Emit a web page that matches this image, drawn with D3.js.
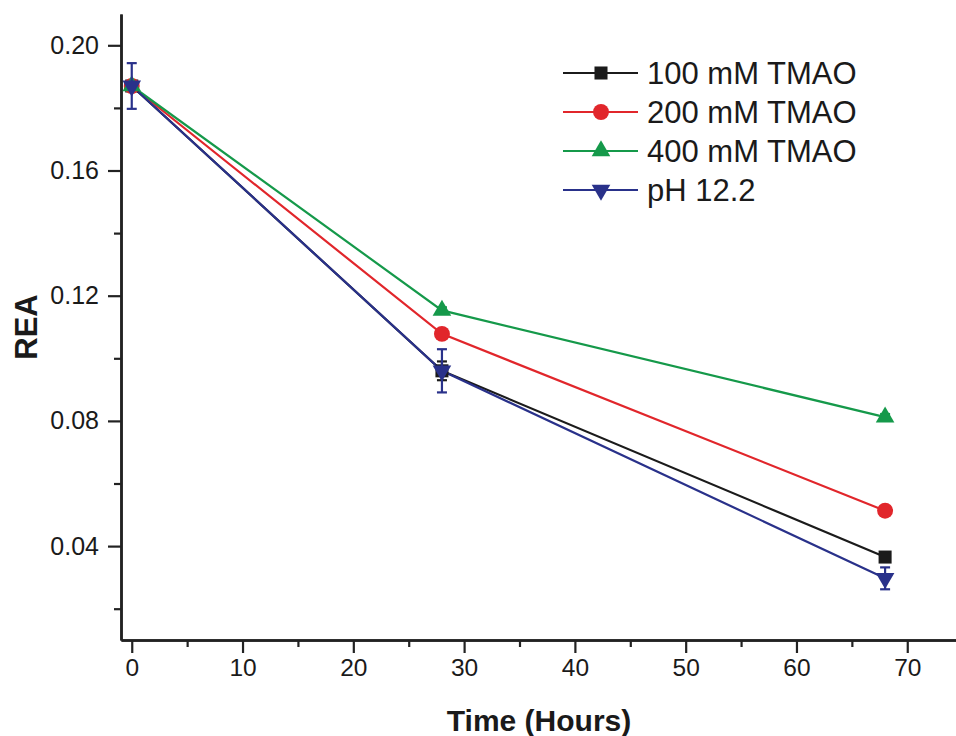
<!DOCTYPE html>
<html>
<head>
<meta charset="utf-8">
<script src="https://cdn.jsdelivr.net/npm/d3@7"></script>
<style>
  html, body { margin: 0; padding: 0; background: #fff; }
  svg { display: block; font-family: Arial, "Liberation Sans", sans-serif; }
</style>
</head>
<body>
<svg id="chart" width="956" height="736"></svg>
<script>
// Time points (hours)
const hours = [0, 28, 68];

// REA values per condition
const tmao100 = [0.187, 0.096, 0.0365];
const tmao200 = [0.187, 0.1078, 0.0513];
const tmao400 = [0.187, 0.1153, 0.0812];
const ph122   = [0.187, 0.096, 0.0297];

// Error bar half-widths
const err100 = [0.001, 0.003, 0.001];
const err200 = [0.001, 0.001, 0.001];
const err400 = [0.001, 0.001, 0.001];
const errPh  = [0.0073, 0.0069, 0.0035];

const seriesNames = ["100 mM TMAO", "200 mM TMAO", "400 mM TMAO", "pH 12.2"];
const seriesColors = ["#1b1b1b", "#e1262b", "#15994a", "#29318a"];
const seriesSymbols = ["square", "circle", "triangle", "triangleDown"];

const xTicks = [0, 10, 20, 30, 40, 50, 60, 70];
const xMinor = [5, 15, 25, 35, 45, 55, 65];
const yTicks = [0.04, 0.08, 0.12, 0.16, 0.20];
const yMinor = [0.02, 0.06, 0.10, 0.14, 0.18];

const series = seriesNames.map((name, i) => ({
  name,
  color: seriesColors[i],
  symbol: seriesSymbols[i],
  values: [tmao100, tmao200, tmao400, ph122][i],
  errors: [err100, err200, err400, errPh][i]
}));

const svg = d3.select("#chart");
const plotLeft = 121, plotRight = 956, plotTop = 14, plotBottom = 640;

const x = d3.scaleLinear().domain([-0.97, 74.4]).range([plotLeft, plotRight]);
const y = d3.scaleLinear().domain([0.01, 0.21]).range([plotBottom, plotTop]);

const axisColor = "#222";

// X axis
const gx = svg.append("g").attr("transform", `translate(0,${plotBottom})`);
gx.call(d3.axisBottom(x).tickValues(xTicks).tickFormat(d3.format("d")).tickSize(13).tickPadding(6).tickSizeOuter(0));
gx.append("g").call(d3.axisBottom(x).tickValues(xMinor).tickFormat("").tickSize(7).tickSizeOuter(0));
gx.selectAll(".domain").attr("stroke", axisColor).attr("stroke-width", 2.5);
gx.selectAll(".tick line").attr("stroke", axisColor).attr("stroke-width", 2.2);
gx.selectAll(".tick text").attr("font-size", 24.5).attr("fill", "#1a1a1a")
  .attr("font-family", "Arial, 'Liberation Sans', sans-serif");

// Y axis
const gy = svg.append("g").attr("transform", `translate(${plotLeft},0)`);
gy.call(d3.axisLeft(y).tickValues(yTicks).tickFormat(d3.format(".2f")).tickSize(13).tickPadding(9).tickSizeOuter(0));
gy.append("g").call(d3.axisLeft(y).tickValues(yMinor).tickFormat("").tickSize(7).tickSizeOuter(0));
gy.selectAll(".domain").attr("stroke", axisColor).attr("stroke-width", 2.5);
gy.selectAll(".tick line").attr("stroke", axisColor).attr("stroke-width", 2.2);
gy.selectAll(".tick text").attr("font-size", 25).attr("fill", "#1a1a1a")
  .attr("font-family", "Arial, 'Liberation Sans', sans-serif");

// Axis titles
svg.append("text")
  .attr("x", 539).attr("y", 731)
  .attr("text-anchor", "middle")
  .attr("font-size", 30).attr("font-weight", "bold").attr("fill", "#1a1a1a")
  .text("Time (Hours)");

svg.append("text")
  .attr("transform", "translate(37,327) rotate(-90)")
  .attr("text-anchor", "middle")
  .attr("font-size", 31).attr("font-weight", "bold").attr("fill", "#1a1a1a")
  .text("REA");

// Marker shapes
const symbolMap = {
  square: d3.symbolSquare,
  circle: d3.symbolCircle,
  triangle: d3.symbolTriangle,
  triangleDown: d3.symbolTriangle
};
const symbolSize = { square: 170, circle: 200, triangle: 150, triangleDown: 150 };

function drawMarker(g, s, cx, cy) {
  g.append("path")
    .attr("d", d3.symbol().type(symbolMap[s.symbol]).size(symbolSize[s.symbol])())
    .attr("transform", `translate(${cx},${cy})` + (s.symbol === "triangleDown" ? " rotate(180)" : ""))
    .attr("fill", s.color);
}

const line = d3.line().x((d, i) => x(hours[i])).y(d => y(d));

const plot = svg.append("g");

// Lines first, then error bars and markers on top
series.forEach(s => {
  plot.append("path")
    .datum(s.values)
    .attr("d", line)
    .attr("fill", "none")
    .attr("stroke", s.color)
    .attr("stroke-width", 2.2);
});

series.forEach(s => {
  const g = plot.append("g");
  s.values.forEach((v, i) => {
    const cx = x(hours[i]);
    const e = s.errors[i];
    const y0 = y(v + e), y1 = y(v - e);
    g.append("line").attr("x1", cx).attr("x2", cx).attr("y1", y0).attr("y2", y1)
      .attr("stroke", s.color).attr("stroke-width", 2.2);
    [y0, y1].forEach(yy => g.append("line")
      .attr("x1", cx - 5).attr("x2", cx + 5).attr("y1", yy).attr("y2", yy)
      .attr("stroke", s.color).attr("stroke-width", 2.2));
    drawMarker(g, s, cx, y(v));
  });
});

// Legend
const legend = svg.append("g");
series.forEach((s, i) => {
  const ly = 73 + i * 39;
  legend.append("line").attr("x1", 563).attr("x2", 638).attr("y1", ly).attr("y2", ly)
    .attr("stroke", s.color).attr("stroke-width", 2.2);
  drawMarker(legend, s, 601, ly);
  legend.append("text")
    .attr("x", 647).attr("y", ly + 11)
    .attr("font-size", 31).attr("fill", "#1a1a1a")
    .text(s.name);
});
</script>
</body>
</html>
